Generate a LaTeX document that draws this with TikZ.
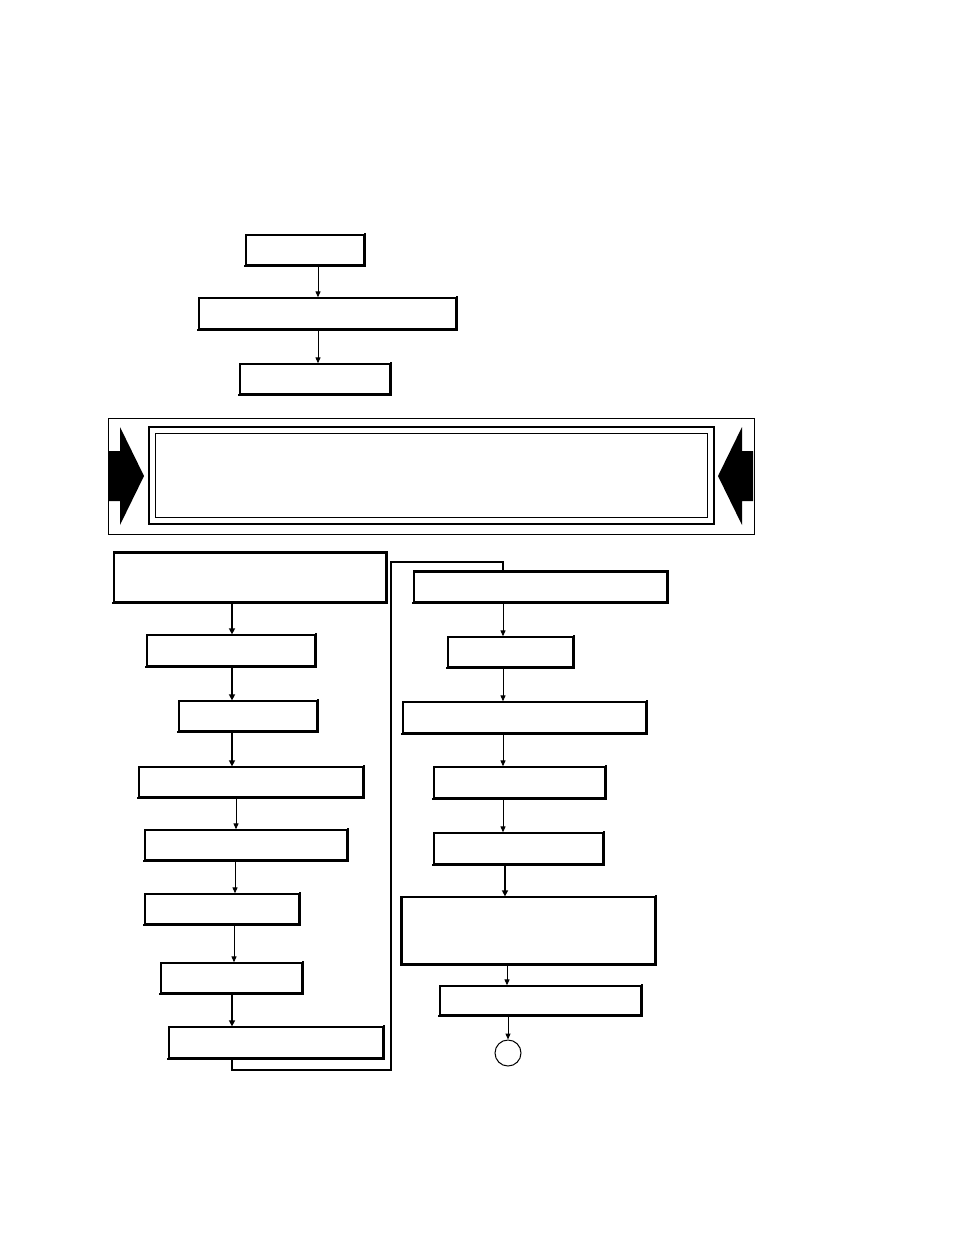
\documentclass[tikz,border=0pt]{standalone}
\usetikzlibrary{arrows.meta}
\newcommand\bx[5]{\node[box, minimum width={#4-#2}, minimum height={#5-#3}] (#1) at ({(#2+#4)/2},{(#3+#5)/2}) {};}
\begin{document}
\begin{tikzpicture}[x=1pt,y=-1pt,
  box/.style={draw, line width=1.3pt, inner sep=0pt, rectangle},
  edge/.style={line width=2pt, line cap=rect},
  arr/.style={line width=1pt, -{Triangle[length=6pt,width=5pt]}},
  tarr/.style={line width=2pt, -{Triangle[length=6pt,width=6pt]}},
  link/.style={line width=1.2pt}]
\useasboundingbox (0,0) rectangle (954,1235);
% top column
\bx{A}{246}{235}{364}{265}
\bx{B}{199}{298}{456}{329}
\bx{C}{240}{364}{390}{394}
% left column
\bx{L1}{114}{553}{386}{602}
\bx{L2}{147}{635}{315}{666}
\bx{L3}{179}{701}{317}{731}
\bx{L4}{139}{767}{363}{797}
\bx{L5}{145}{830}{347}{860}
\bx{L6}{145}{894}{299}{924}
\bx{L7}{161}{963}{302}{993}
\bx{L8}{169}{1027}{383}{1058}
% right column
\bx{R1}{414}{572}{667}{602}
\bx{R2}{448}{637}{573}{667}
\bx{R3}{403}{702}{646}{733}
\bx{R4}{434}{767}{605}{798}
\bx{R5}{434}{833}{603}{864}
\bx{R6}{402}{897}{655}{964}
\bx{R7}{440}{986}{641}{1015}
\node[draw, circle, line width=1pt, minimum size=26pt, inner sep=0pt] (E) at (508,1053) {};
% thicker right/bottom edges
\foreach \n in {A,B,C,L1,L2,L3,L4,L5,L6,L7,L8,R1,R2,R3,R4,R5,R6,R7}
  \draw[edge] (\n.north east) -- (\n.south east) -- (\n.south west);
\draw[line width=2.4pt] (L1.north west) -- (L1.north east);
\draw[line width=2.4pt] (R1.north west) -- (R1.north east);
\draw[line width=2.4pt] (R6.north west) -- (R6.south west);
% x positions
\coordinate (xt) at (318,0);
\coordinate (xa) at (232,0);
\coordinate (xb) at (236,0);
\coordinate (xc) at (235,0);
\coordinate (xd) at (234,0);
\coordinate (xr) at (503,0);
\coordinate (xs) at (505,0);
\coordinate (xu) at (507,0);
\coordinate (xv) at (508,0);
\coordinate (loopL) at (391,1070);
\coordinate (loopT) at (391,562);
% top arrows
\draw[arr] (A.south -| xt) -- (B.north -| xt);
\draw[arr] (B.south -| xt) -- (C.north -| xt);
% left arrows
\draw[tarr] (L1.south -| xa) -- (L2.north -| xa);
\draw[tarr] (L2.south -| xa) -- (L3.north -| xa);
\draw[tarr] (L3.south -| xa) -- (L4.north -| xa);
\draw[arr] (L4.south -| xb) -- (L5.north -| xb);
\draw[arr] (L5.south -| xc) -- (L6.north -| xc);
\draw[arr] (L6.south -| xd) -- (L7.north -| xd);
\draw[tarr] (L7.south -| xa) -- (L8.north -| xa);
% loop connector
\draw[link] (L8.south -| xa) -- (loopL -| xa) -- (loopL) -- (loopT) -- (loopT -| xr) -- (R1.north -| xr);
% right arrows
\draw[arr] (R1.south -| xr) -- (R2.north -| xr);
\draw[arr] (R2.south -| xr) -- (R3.north -| xr);
\draw[arr] (R3.south -| xr) -- (R4.north -| xr);
\draw[arr] (R4.south -| xr) -- (R5.north -| xr);
\draw[tarr] (R5.south -| xs) -- (R6.north -| xs);
\draw[arr] (R6.south -| xu) -- (R7.north -| xu);
\draw[arr] (R7.south -| xv) -- (E.north);
% banner
\draw[line width=1pt] (108,418) rectangle (754,534);
\draw[line width=2pt] (149,427) rectangle (714,524);
\draw[line width=1pt] (155,433) rectangle (707,517);
\fill (108,451) -- (120,451) -- (120,427) -- (144,476) -- (120,525) -- (120,501) -- (108,501) -- cycle;
\fill (753,451) -- (742,451) -- (742,427) -- (718,476) -- (742,525) -- (742,501) -- (753,501) -- cycle;
\end{tikzpicture}
\end{document}
